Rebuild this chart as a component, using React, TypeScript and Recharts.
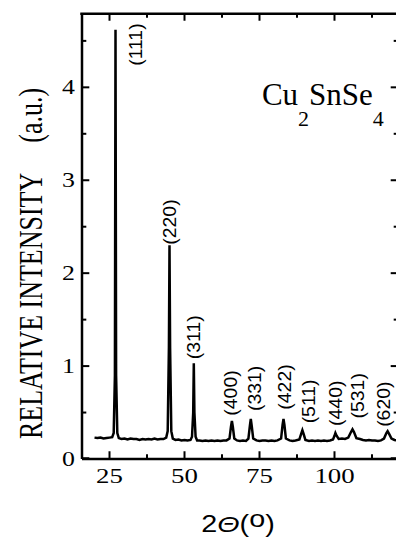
import React from "react";
import { ComposedChart, Line, XAxis, YAxis, ReferenceDot } from "recharts";

// diffraction profile (2θ in degrees, relative intensity)
const twoTheta = [
  20, 21, 22, 23, 24, 25, 25.9, 26.4, 26.8, 27.0, 27.2, 27.6, 28.1, 29, 30, 31, 32, 33, 34, 35, 36, 37, 38, 39, 40,
  41, 42, 43, 43.9, 44.4, 44.8, 45.0, 45.2, 45.6, 46.1, 47, 48, 49, 50, 51, 52, 52.5, 52.9, 53.1, 53.3, 53.7, 54.2,
  55, 56, 57, 58, 59, 60, 61, 62, 63, 64, 65, 65.5, 65.8, 66.1, 66.6, 67.5, 68.5, 69.5, 70.5, 71.3, 71.8, 72.1, 72.4,
  72.9, 74, 75, 76, 77, 78, 79, 80, 81, 82.2, 82.7, 83.0, 83.3, 83.8, 85, 86, 87, 88.3, 89.0, 89.3, 89.7, 90.3, 91.5,
  92.5, 93.5, 94.5, 95.5, 96.5, 97.5, 98.5, 99.5, 100.0, 100.3, 100.7, 101.4, 102.5, 103.5, 104.6, 105.5, 106.0,
  106.5, 107.3, 108.5, 109.5, 110.5, 111.5, 112.5, 113.5, 114.5, 115.5, 116.5, 117.3, 117.7, 118.2, 119, 120, 121,
];
const intensity = [
  0.23, 0.225, 0.23, 0.22, 0.225, 0.23, 0.235, 0.28, 0.9, 4.62, 0.9, 0.28, 0.225, 0.215, 0.22, 0.21, 0.22, 0.215,
  0.215, 0.205, 0.215, 0.21, 0.215, 0.21, 0.22, 0.21, 0.215, 0.215, 0.23, 0.3, 1.2, 2.3, 1.2, 0.3, 0.22, 0.205, 0.21,
  0.2, 0.205, 0.2, 0.205, 0.24, 0.5, 1.03, 0.5, 0.24, 0.2, 0.2, 0.195, 0.2, 0.195, 0.2, 0.195, 0.2, 0.195, 0.2, 0.2,
  0.22, 0.35, 0.41, 0.35, 0.22, 0.2, 0.195, 0.2, 0.195, 0.22, 0.36, 0.43, 0.36, 0.22, 0.2, 0.195, 0.2, 0.2, 0.195,
  0.2, 0.195, 0.2, 0.22, 0.37, 0.43, 0.37, 0.22, 0.2, 0.195, 0.2, 0.21, 0.28, 0.31, 0.27, 0.205, 0.195, 0.2, 0.195,
  0.2, 0.195, 0.2, 0.195, 0.2, 0.21, 0.25, 0.28, 0.25, 0.215, 0.22, 0.215, 0.23, 0.29, 0.32, 0.29, 0.225, 0.215,
  0.205, 0.2, 0.205, 0.2, 0.2, 0.195, 0.2, 0.22, 0.28, 0.3, 0.27, 0.22, 0.205, 0.2,
];

const peakLabels = ["(111)", "(220)", "(311)", "(400)", "(331)", "(422)", "(511)", "(440)", "(531)", "(620)"];
const peakLabelX = [33.8, 45.2, 53.2, 65.5, 73.5, 83.5, 91.5, 100.5, 107.8, 116.5];
const peakLabelY = [4.46, 2.55, 1.31, 0.71, 0.76, 0.775, 0.62, 0.6, 0.68, 0.59];

const xTicks = [25, 37.5, 50, 62.5, 75, 87.5, 100, 112.5];
const yTicks = [0, 0.5, 1, 1.5, 2, 2.5, 3, 3.5, 4, 4.5];

const X_MIN = 15.83;
const X_MAX = 121.17;
const Y_MAX = 4.8;
// keep frame marks just inside the domain edges
const EPS_X = 0.1;
const EPS_Y = 0.008;

const data = twoTheta.map((t, i) => ({ t, v: intensity[i] }));

const serif = "'Liberation Serif', 'Times New Roman', serif";
const sans = "'Liberation Sans', Arial, sans-serif";

function BottomTick({ x, y, payload }: any) {
  if (payload.value % 25 !== 0) return <g />;
  return (
    <text
      transform={`translate(${x},${y + 24}) scale(1.22,1)`}
      textAnchor="middle"
      fontFamily={serif}
      fontSize={22}
      fill="#000"
    >
      {payload.value}
    </text>
  );
}

function LeftTick({ x, y, payload }: any) {
  if (payload.value % 1 !== 0) return <g />;
  return (
    <text
      transform={`translate(${x - 7},${y}) scale(1.23,1)`}
      textAnchor="end"
      dy="0.34em"
      fontFamily={serif}
      fontSize={21}
      fill="#000"
    >
      {payload.value}
    </text>
  );
}

function YTitle({ viewBox }: any) {
  return (
    <text
      transform={`translate(${viewBox.x + 41.5},${viewBox.y + 250.5}) rotate(-90) scale(1,1.3)`}
      textAnchor="middle"
      fontFamily={serif}
      fontSize={26}
      fill="#000"
    >
      RELATIVE INTENSITY<tspan dx={30}>(a.u.)</tspan>
    </text>
  );
}

function XTitle({ viewBox }: any) {
  return (
    <text
      transform={`translate(${viewBox.x + 156},${viewBox.y + 72.7}) scale(1.25,1)`}
      textAnchor="middle"
      fontFamily={sans}
      fontSize={23}
      fill="#000"
    >
      2<tspan fontStyle="italic">Θ</tspan>(<tspan dy={-5}>o</tspan>
      <tspan dy={5}>)</tspan>
    </text>
  );
}

// short inward tick drawn from a point on the frame
const tickShape = (dx: number, dy: number) => (p: any) =>
  <line x1={p.cx} y1={p.cy} x2={p.cx + dx} y2={p.cy + dy} stroke="black" strokeWidth={2} />;

export default function App() {
  return (
    <div
      style={{
        position: "absolute",
        left: 0,
        top: 0,
        width: 396,
        height: 537,
        overflow: "hidden",
        background: "#fff",
      }}
    >
      <ComposedChart width={400} height={537} data={data} margin={{ top: 13, right: 2, bottom: 0, left: 0 }}>
        <XAxis
          dataKey="t"
          type="number"
          domain={[X_MIN, X_MAX]}
          allowDataOverflow
          ticks={xTicks}
          interval={0}
          tick={BottomTick}
          tickLine={false}
          tickSize={0}
          tickMargin={0}
          height={78}
          axisLine={{ stroke: "#000", strokeWidth: 2.5 }}
          label={{ content: XTitle }}
        />
        <YAxis
          dataKey="v"
          type="number"
          domain={[0, Y_MAX]}
          allowDataOverflow
          ticks={yTicks}
          interval={0}
          tick={LeftTick}
          tickLine={false}
          tickSize={0}
          tickMargin={0}
          width={82}
          axisLine={{ stroke: "#000", strokeWidth: 2.5 }}
          label={{ content: YTitle }}
        />
        <Line
          type="linear"
          dataKey="v"
          stroke="#000"
          strokeWidth={2.5}
          dot={false}
          isAnimationActive={false}
        />
        {/* top edge of the frame (right edge falls just outside the picture) */}
        <ReferenceDot
          x={X_MIN + EPS_X}
          y={Y_MAX - EPS_Y}
          r={0}
          shape={(p: any) => (
            <line x1={p.cx - 2} y1={p.cy} x2={p.cx + 330} y2={p.cy} stroke="black" strokeWidth={2.5} />
          )}
        />
        {xTicks.map((t) => (
          <ReferenceDot key={`b${t}`} x={t} y={EPS_Y} r={0} shape={tickShape(0, t % 25 === 0 ? -7 : -4)} />
        ))}
        {xTicks.map((t) => (
          <ReferenceDot key={`t${t}`} x={t} y={Y_MAX - EPS_Y} r={0} shape={tickShape(0, t % 25 === 0 ? 7 : 4)} />
        ))}
        {yTicks.map((v) => (
          <ReferenceDot
            key={`l${v}`}
            x={X_MIN + EPS_X}
            y={Math.max(v, EPS_Y)}
            r={0}
            shape={tickShape(v % 1 === 0 ? 7 : 4, 0)}
          />
        ))}
        {yTicks.map((v) => (
          <ReferenceDot
            key={`r${v}`}
            x={X_MAX - EPS_X}
            y={Math.max(v, EPS_Y)}
            r={0}
            shape={tickShape(v % 1 === 0 ? -7 : -4, 0)}
          />
        ))}
        {peakLabels.map((lbl, i) => (
          <ReferenceDot
            key={lbl}
            x={peakLabelX[i]}
            y={peakLabelY[i]}
            r={0}
            shape={(p: any) => (
              <text
                transform={`translate(${p.cx},${p.cy}) rotate(-90) scale(1.08,1)`}
                textAnchor="middle"
                dy="0.33em"
                fontFamily={sans}
                fontSize={18}
                fill="#000"
              >
                {lbl}
              </text>
            )}
          />
        ))}
        <ReferenceDot
          x={75.8}
          y={3.81}
          r={0}
          shape={(p: any) => (
            <text x={p.cx} y={p.cy} fontFamily={serif} fontSize={31} fill="#000">
              Cu<tspan fontSize={22} dy={21}>2</tspan>
              <tspan dy={-21}>SnSe</tspan>
              <tspan fontSize={22} dy={21}>4</tspan>
            </text>
          )}
        />
      </ComposedChart>
    </div>
  );
}
